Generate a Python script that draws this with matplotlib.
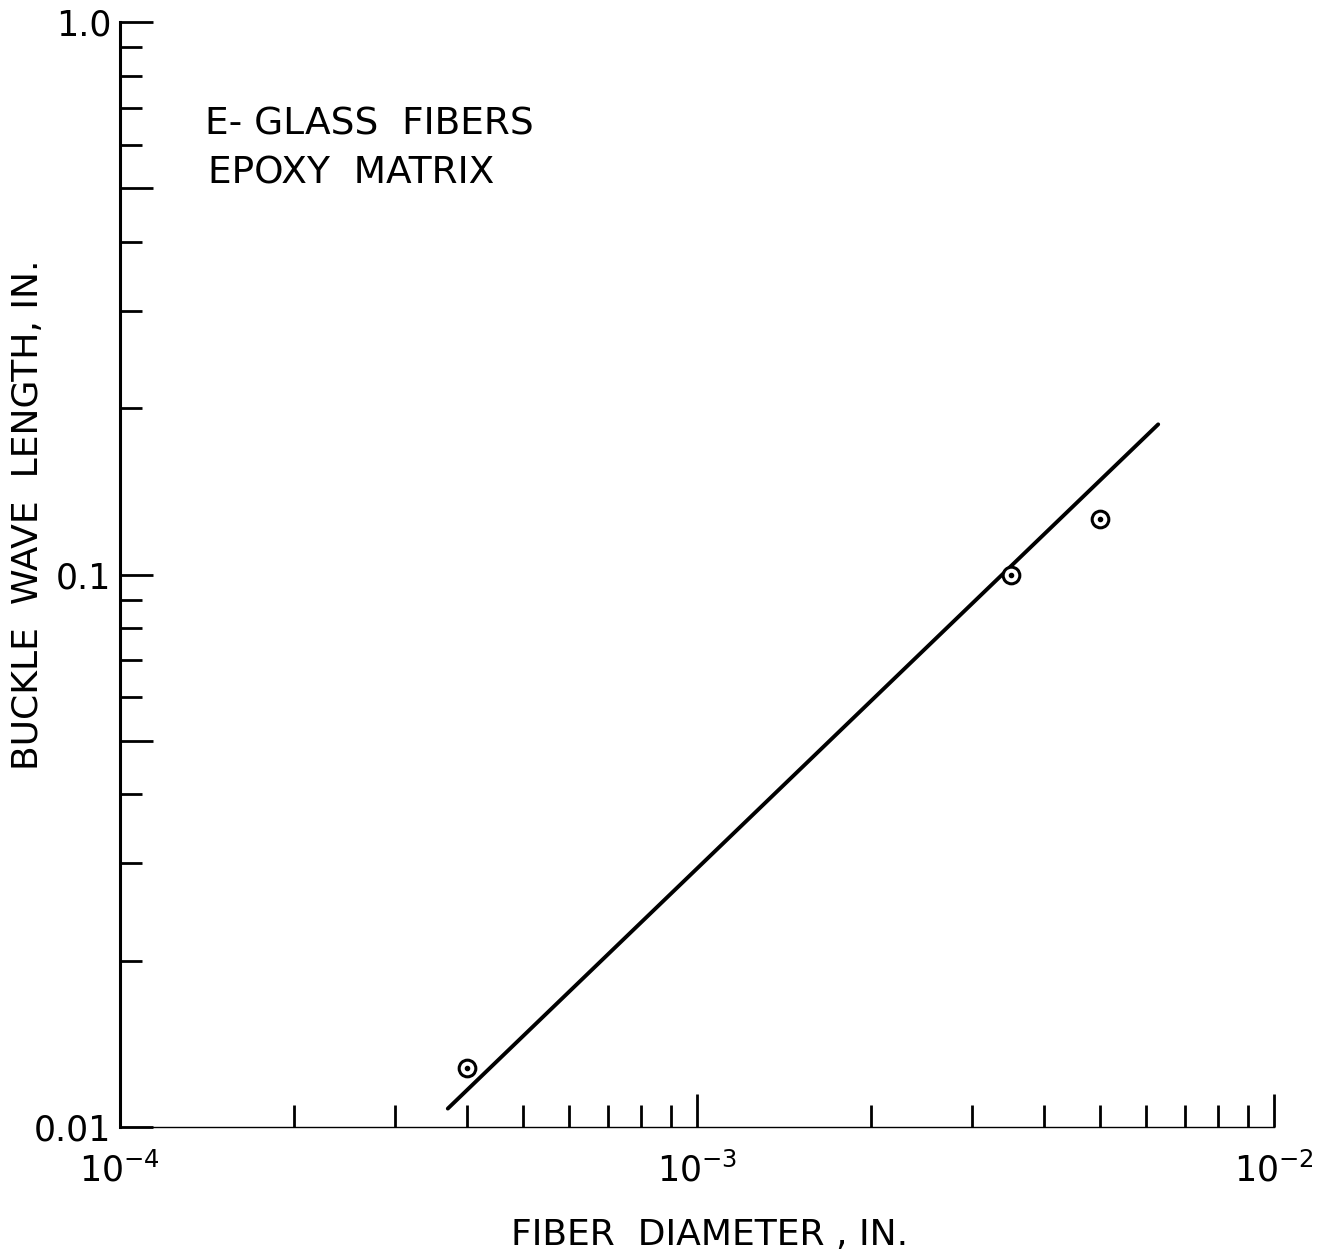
import matplotlib
matplotlib.use('Agg')
import matplotlib.pyplot as plt
from matplotlib.ticker import FixedLocator, NullFormatter
import numpy as np

diameter = [4.0e-4, 3.5e-3, 5.0e-3]
wave_length = [0.0128, 0.100, 0.126]

# fitted line end points
fit_diameter = [3.7e-4, 6.3e-3]
fit_wave_length = [0.0108, 0.187]

x_major = [1e-4, 1e-3, 1e-2]
x_major_labels = [r'$10^{-4}$', r'$10^{-3}$', r'$10^{-2}$']
y_major = [0.01, 0.05, 0.1, 0.5, 1.0]
y_major_labels = ['0.01', '', '0.1', '', '1.0']

plt.rcParams['font.family'] = ['DejaVu Sans']
plt.rcParams['mathtext.fontset'] = 'dejavusans'

fig = plt.figure(figsize=(13.18, 12.52), dpi=100)
ax = fig.add_axes([0.0910, 0.0998, 0.8756, 0.8826])

ax.plot(fit_diameter, fit_wave_length, color='black', lw=2.8, solid_capstyle='round')
ax.plot(diameter, wave_length, 'o', mfc='white', mec='black', ms=12, mew=2.2)
ax.plot(diameter, wave_length, 'o', color='black', ms=3)

ax.set_xscale('log')
ax.set_yscale('log')
ax.set_xlim(1e-4, 1e-2)
ax.set_ylim(0.01, 1.0)

ax.xaxis.set_major_locator(FixedLocator(x_major))
ax.set_xticklabels(x_major_labels)
ax.xaxis.set_minor_locator(FixedLocator([m * d for d in [1e-4, 1e-3] for m in range(2, 10)]))
ax.xaxis.set_minor_formatter(NullFormatter())

ax.yaxis.set_major_locator(FixedLocator(y_major))
ax.set_yticklabels(y_major_labels)
ax.yaxis.set_minor_locator(FixedLocator([m * d for d in [0.01, 0.1] for m in [2, 3, 4, 6, 7, 8, 9]]))
ax.yaxis.set_minor_formatter(NullFormatter())

for s in ['top', 'right']:
    ax.spines[s].set_visible(False)
ax.spines['left'].set_linewidth(2.2)
ax.spines['bottom'].set_linewidth(1.0)
ax.spines['left'].set_zorder(5)

ax.tick_params(which='both', direction='in', width=2.0, colors='black')
ax.tick_params(which='major', length=24)
ax.tick_params(which='minor', length=16)
ax.tick_params(axis='x', which='major', pad=18, labelsize=25)
ax.tick_params(axis='y', which='major', pad=6, labelsize=25)

ax.set_xlabel('FIBER  DIAMETER , IN.', fontsize=26)
ax.xaxis.set_label_coords(0.511, -0.0824)
ax.set_ylabel('BUCKLE  WAVE  LENGTH, IN.', fontsize=26)
ax.yaxis.set_label_coords(-0.065, 0.554)

ax.text(0.0737, 0.898, 'E- GLASS  FIBERS', transform=ax.transAxes, fontsize=27, va='baseline')
ax.text(0.0760, 0.854, 'EPOXY  MATRIX', transform=ax.transAxes, fontsize=27, va='baseline')

fig.savefig('out.png', dpi=100)
